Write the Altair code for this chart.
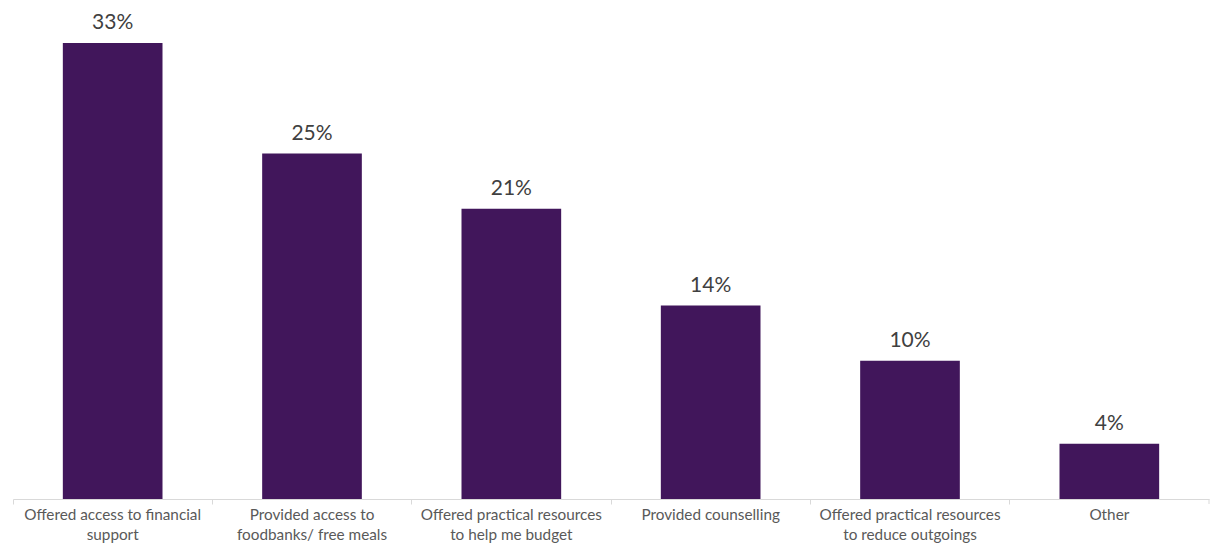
import altair as alt
import pandas as pd

categories = [
    "Offered access to financial|support",
    "Provided access to|foodbanks/ free meals",
    "Offered practical resources|to help me budget",
    "Provided counselling",
    "Offered practical resources|to reduce outgoings",
    "Other",
]
values = [33, 25, 21, 14, 10, 4]
labels = ["33%", "25%", "21%", "14%", "10%", "4%"]

df = pd.DataFrame({"cat": categories, "val": values, "lab": labels})

FONT = "Lato"

x = alt.X(
    "cat:N",
    sort=categories,
    scale=alt.Scale(paddingInner=0, paddingOuter=0),
    axis=alt.Axis(
        title=None,
        labelAngle=0,
        labelExpr="split(datum.label, '|')",
        labelFont=FONT,
        labelFontSize=15.3,
        labelColor="#595959",
        labelLineHeight=20,
        labelPadding=3,
        labelLimit=250,
        domainColor="#d9d9d9",
        tickColor="#d9d9d9",
        tickSize=5,
        bandPosition=0,
        labelBound=False,
    ),
)
y = alt.Y(
    "val:Q",
    scale=alt.Scale(domain=[0, 34.95], nice=False),
    axis=None,
)

bars = alt.Chart(df).mark_bar(color="#41165B", width=alt.RelativeBandSize(0.5)).encode(x=x, y=y)
text = alt.Chart(df).mark_text(
    baseline="alphabetic", dy=-14, font=FONT, fontSize=21, color="#404040"
).encode(x=alt.X("cat:N", sort=categories, bandPosition=0.5), y=y, text="lab:N")
endtick = (
    alt.Chart(df)
    .transform_filter(alt.datum.cat == categories[-1])
    .mark_rule(color="#d9d9d9", y2Offset=5)
    .encode(
        x=alt.X("cat:N", sort=categories, bandPosition=1),
        y=alt.datum(0),
        y2=alt.datum(0),
    )
)

chart = (
    alt.layer(bars, text, endtick)
    .properties(
        width=1202,
        height=535,
        padding={"left": 4, "top": 6, "right": 0, "bottom": 0},
        autosize=alt.AutoSizeParams(type="fit", contains="padding"),
    )
    .configure_view(stroke=None)
)
chart.save("out.html", embed_options={"renderer": "svg", "actions": False})
